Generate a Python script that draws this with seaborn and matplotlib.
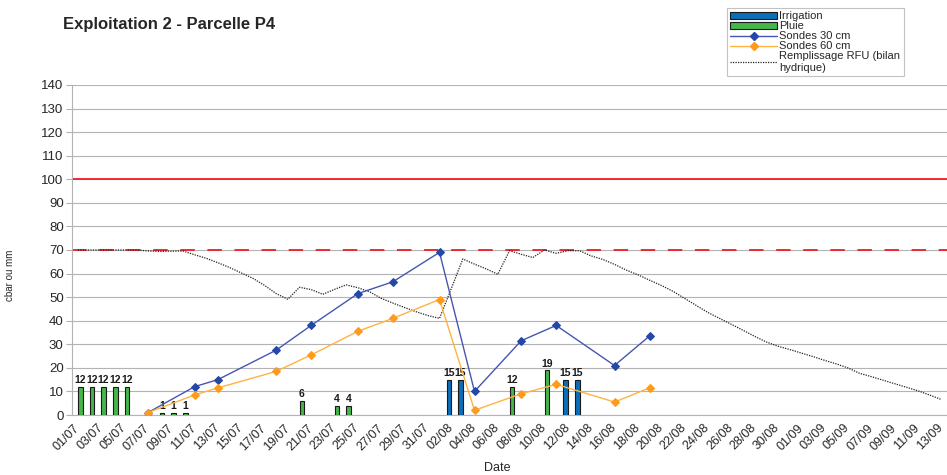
import pandas as pd
import matplotlib
matplotlib.use("Agg")
import matplotlib.pyplot as plt
from matplotlib.patches import Patch
from matplotlib.lines import Line2D
import seaborn as sns

# all days of the category axis (01/07 -> 13/09)
dates = list(pd.date_range("2023-07-01", "2023-09-13").strftime("%d/%m"))

# bars (mm)
pluie_dates = ["01/07", "02/07", "03/07", "04/07", "05/07", "08/07", "09/07", "10/07",
               "20/07", "23/07", "24/07", "07/08", "10/08"]
pluie_mm = [12, 12, 12, 12, 12, 1, 1, 1, 6, 4, 4, 12, 19]
irrig_dates = ["02/08", "03/08", "12/08", "13/08"]
irrig_mm = [15, 15, 15, 15]

# tensiometers (cbar)
sonde_dates = ["07/07", "11/07", "13/07", "18/07", "21/07", "25/07", "28/07",
               "01/08", "04/08", "08/08", "11/08", "16/08", "19/08"]
sonde_30 = [1, 12, 15, 27.5, 38, 51.5, 56.5, 69, 10, 31.5, 38, 21, 33.5]
sonde_60 = [1, 8.5, 11.5, 18.5, 25.5, 35.5, 41, 49, 2, 9, 13, 5.5, 11.5]

# water balance, one value per day
rfu = [70, 70, 70, 70, 70, 70, 69.6, 69.4, 69.5, 69.6,
       68, 66.5, 64.6, 62.6, 60.3, 58, 55, 51.5, 49.1, 54.2,
       53.2, 51.2, 53.3, 55.2, 54, 52.3, 49.5, 47.5, 45.6, 43.8,
       42.2, 41, 53.5, 66.2, 64, 62, 59.7, 69.7, 68.2, 66.8,
       70, 68.6, 69.7, 69.7, 67.5, 66, 63.9, 61.5, 59.5, 57.2,
       55, 52.5, 49.5, 46.5, 43.5, 41, 38.5, 36, 33.4, 31,
       29.2, 27.8, 26.3, 24.8, 23.2, 21.7, 20, 17.7, 16.3, 14.8,
       13.3, 11.8, 10.3, 8.5, 6.6]

c_irrig = "#0b6fb8"
c_pluie = "#45b649"
c_s30 = "#4656b0"
c_s30m = "#2448a8"
c_s60 = "#ffb340"
c_s60m = "#ff9a1a"
c_red = "#ee1c25"

sns.set_style("white")
plt.rcParams["font.family"] = ["Liberation Sans", "DejaVu Sans"]

bars = pd.DataFrame({
    "date": irrig_dates + pluie_dates,
    "serie": ["Irrigation"] * len(irrig_dates) + ["Pluie"] * len(pluie_dates),
    "mm": irrig_mm + pluie_mm,
})

fig = plt.figure(figsize=(9.47, 4.75), dpi=100)
ax = fig.add_axes([72 / 947, 60 / 475, 875 / 947, 330 / 475])

sns.barplot(data=bars, x="date", y="mm", hue="serie", order=dates,
            hue_order=["Irrigation", "Pluie"],
            palette={"Irrigation": c_irrig, "Pluie": c_pluie},
            width=0.8, dodge=True, errorbar=None, edgecolor="#1a1a1a",
            linewidth=0.8, saturation=1, legend=False, ax=ax, zorder=3)
for cont in ax.containers:
    ax.bar_label(cont, fmt="%g", fontsize=7.5, fontweight="bold", padding=1,
                 color="#1a1a1a")

pos = [dates.index(d) for d in sonde_dates]
sns.lineplot(x=list(range(len(dates))), y=rfu, ax=ax, color="#222222",
             linewidth=0.9, linestyle=(0, (1, 1)), zorder=4)
sns.lineplot(x=pos, y=sonde_30, ax=ax, color=c_s30, linewidth=1.0, marker="D",
             markersize=4.5, markerfacecolor=c_s30m, markeredgecolor=c_s30m, zorder=5)
sns.lineplot(x=pos, y=sonde_60, ax=ax, color=c_s60, linewidth=1.0, marker="D",
             markersize=4.5, markerfacecolor=c_s60m, markeredgecolor=c_s60m, zorder=5)

ax.axhline(100, color=c_red, linewidth=1.3, zorder=2)
ax.axhline(70, color=c_red, linewidth=1.3, linestyle=(0, (8, 7)), zorder=2)

ax.set_xlim(-0.5, len(dates) - 0.5)
ax.set_ylim(0, 140)
ax.set_yticks(range(0, 141, 10))
ax.yaxis.grid(True, color="#b3b3b3", linewidth=0.8, zorder=0)
ax.set_axisbelow(True)
ax.set_xticks(range(0, len(dates), 2))
ax.set_xticklabels(dates[::2], rotation=45, ha="right", va="center",
                   rotation_mode="anchor", fontsize=9)
ax.set_xticks([i - 0.5 for i in range(len(dates) + 1)], minor=True)
ax.tick_params(axis="x", which="major", length=0, pad=8)
ax.tick_params(axis="x", which="minor", length=4, color="#b3b3b3", width=0.8)
ax.tick_params(axis="y", length=4, color="#b3b3b3", width=0.8, labelsize=9.5, pad=2,
               left=True)
ax.set_xlabel("")
ax.set_ylabel("")
for s in ["top", "right"]:
    ax.spines[s].set_visible(False)
for s in ["left", "bottom"]:
    ax.spines[s].set_color("#b3b3b3")
    ax.spines[s].set_linewidth(0.8)

fig.text(63 / 947, 1 - 25 / 475, "Exploitation 2 - Parcelle P4", fontsize=12,
         fontweight="bold", va="center", ha="left")
fig.text(10 / 947, 1 - 275 / 475, "cbar ou mm", rotation=90, fontsize=7,
         va="center", ha="center")
fig.text(497 / 947, 1 - 468 / 475, "Date", fontsize=9, va="center", ha="center")

handles = [
    Patch(facecolor=c_irrig, edgecolor="#1a1a1a", linewidth=0.8),
    Patch(facecolor=c_pluie, edgecolor="#1a1a1a", linewidth=0.8),
    Line2D([], [], color=c_s30, linewidth=1, marker="D", markersize=4,
           markerfacecolor=c_s30m, markeredgecolor=c_s30m),
    Line2D([], [], color=c_s60, linewidth=1, marker="D", markersize=4,
           markerfacecolor=c_s60m, markeredgecolor=c_s60m),
    Line2D([], [], color="#222222", linewidth=0.9, linestyle=(0, (1, 1))),
]
labels = ["Irrigation", "Pluie", "Sondes 30 cm", "Sondes 60 cm",
          "Remplissage RFU (bilan\nhydrique)"]
leg = fig.legend(handles, labels, loc="upper left",
                 bbox_to_anchor=(727 / 947, 1 - 8 / 475), fontsize=8,
                 frameon=True, fancybox=False, edgecolor="#b3b3b3",
                 borderaxespad=0, borderpad=0.3, labelspacing=0.0,
                 handlelength=4.2, handleheight=0.6, handletextpad=0.2)
leg.get_frame().set_linewidth(0.8)
leg._legend_box.sep = 0

fig.savefig("out.png", dpi=100)
